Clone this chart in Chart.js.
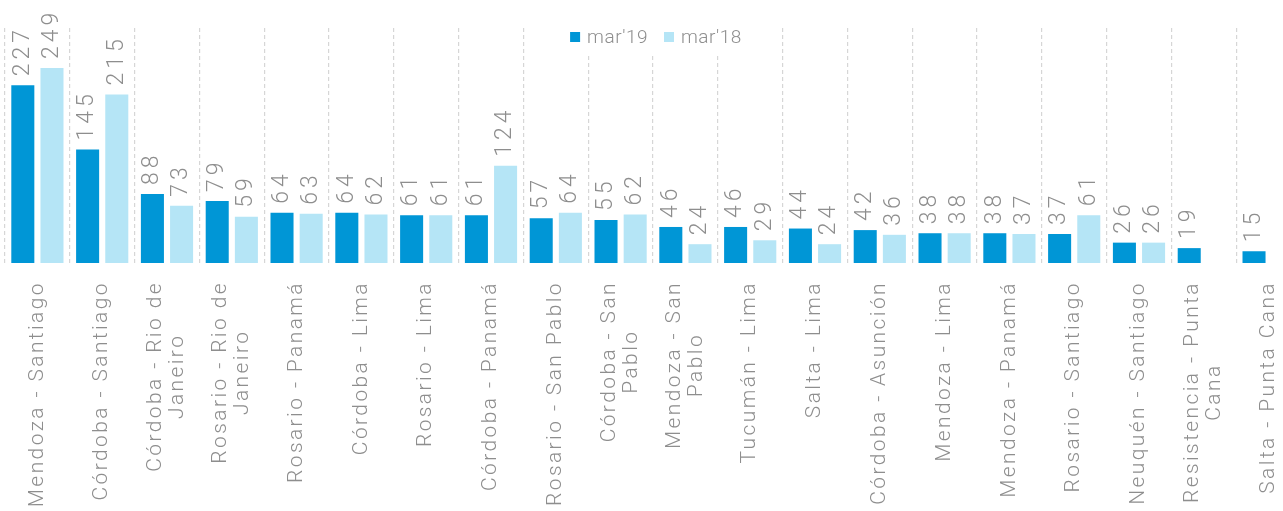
<!DOCTYPE html>
<html lang="es">
<head>
<meta charset="UTF-8">
<title>Rutas mar'19 vs mar'18</title>
<script src="https://cdn.jsdelivr.net/npm/chart.js"></script>
<style>
  html, body { margin: 0; padding: 0; background: #fff; overflow: hidden; }
  #wrap { width: 1302px; height: 511px; position: relative; }
</style>
</head>
<body>
<div id="wrap"><canvas id="myChart"></canvas></div>
<script>
// datos
const rutas = [
  ['Mendoza - Santiago'],
  ['Córdoba - Santiago'],
  ['Córdoba - Rio de', 'Janeiro'],
  ['Rosario - Rio de', 'Janeiro'],
  ['Rosario - Panamá'],
  ['Córdoba - Lima'],
  ['Rosario - Lima'],
  ['Córdoba - Panamá'],
  ['Rosario - San Pablo'],
  ['Córdoba - San', 'Pablo'],
  ['Mendoza - San', 'Pablo'],
  ['Tucumán - Lima'],
  ['Salta - Lima'],
  ['Córdoba - Asunción'],
  ['Mendoza - Lima'],
  ['Mendoza - Panamá'],
  ['Rosario - Santiago'],
  ['Neuquén - Santiago'],
  ['Resistencia - Punta', 'Cana'],
  ['Salta - Punta Cana']
];
const mar19 = [227, 145, 88, 79, 64, 64, 61, 61, 57, 55, 46, 46, 44, 42, 38, 38, 37, 26, 19, 15];
const mar18 = [249, 215, 73, 59, 63, 62, 61, 124, 64, 62, 24, 29, 24, 36, 38, 37, 61, 26, null, null];
const series = ["mar'19", "mar'18"];
const colores = ['#0096d6', '#b5e5f6'];

const GRIS = '#8e8e8e';
const FUENTE = 'Roboto, "Open Sans", sans-serif';

// valores encima de las barras, girados
const etiquetasValor = {
  id: 'etiquetasValor',
  afterDatasetsDraw(chart) {
    const ctx = chart.ctx;
    ctx.save();
    ctx.font = '300 23px ' + FUENTE;
    ctx.fillStyle = GRIS;
    ctx.letterSpacing = '4px';
    ctx.textAlign = 'left';
    ctx.textBaseline = 'middle';
    chart.data.datasets.forEach((ds, di) => {
      chart.getDatasetMeta(di).data.forEach((bar, i) => {
        const v = ds.data[i];
        if (v === null || v === undefined) return;
        ctx.save();
        ctx.translate(bar.x, bar.y - 9);
        ctx.rotate(-Math.PI / 2);
        ctx.fillText(String(v), 0, 0);
        ctx.restore();
      });
    });
    ctx.restore();
  }
};

// nombres de rutas debajo, girados y centrados por linea
const etiquetasRuta = {
  id: 'etiquetasRuta',
  afterDraw(chart) {
    const ctx = chart.ctx;
    const xs = chart.scales.x;
    const top = chart.chartArea.bottom + 18;
    const lh = 22;
    ctx.save();
    ctx.font = '300 21px ' + FUENTE;
    ctx.fillStyle = GRIS;
    ctx.letterSpacing = '2.4px';
    ctx.textAlign = 'center';
    ctx.textBaseline = 'middle';
    rutas.forEach((lineas, i) => {
      const x = xs.getPixelForValue(i);
      const w = Math.max(...lineas.map(l => ctx.measureText(l).width));
      ctx.save();
      ctx.translate(x, top);
      ctx.rotate(-Math.PI / 2);
      lineas.forEach((l, k) => {
        ctx.fillText(l, -w / 2, (k - (lineas.length - 1) / 2) * lh);
      });
      ctx.restore();
    });
    ctx.restore();
  }
};

// leyenda sobre la grilla con fondo blanco
const leyenda = {
  id: 'leyenda',
  afterDraw(chart) {
    const ctx = chart.ctx;
    const ca = chart.chartArea;
    ctx.save();
    ctx.font = '300 19px ' + FUENTE;
    ctx.letterSpacing = '0.5px';
    ctx.textBaseline = 'middle';
    const caja = 10, sep = 7, entre = 16;
    const anchos = series.map(s => ctx.measureText(s).width);
    let total = 0;
    anchos.forEach((w, i) => { total += caja + sep + w + (i < anchos.length - 1 ? entre : 0); });
    let x = (ca.left + ca.right) / 2 - total / 2 + 3;
    const y = 37;
    ctx.fillStyle = '#fff';
    ctx.fillRect(x - 8, ca.top - 1, total + 16, 27);
    series.forEach((s, i) => {
      ctx.fillStyle = colores[i];
      ctx.fillRect(x, y - 5, caja, 10);
      x += caja + sep;
      ctx.fillStyle = GRIS;
      ctx.fillText(s, x, y + 1);
      x += anchos[i] + entre;
    });
    ctx.restore();
  }
};

const ctx = document.querySelector('#myChart');
const myChart = new Chart(ctx, {
  type: 'bar',
  data: {
    labels: rutas.map(r => r.join(' ')),
    datasets: series.map((s, i) => ({
      label: s,
      data: i === 0 ? mar19 : mar18,
      backgroundColor: colores[i],
      borderWidth: 0,
      categoryPercentage: 0.9,
      barPercentage: 0.79
    }))
  },
  options: {
    responsive: true,
    maintainAspectRatio: false,
    animation: false,
    layout: { padding: { left: 5, right: 1, top: 28, bottom: 248 } },
    plugins: {
      legend: { display: false },
      tooltip: { enabled: false }
    },
    scales: {
      x: {
        ticks: { display: false },
        border: { display: false },
        grid: {
          offset: true,
          drawTicks: false,
          color: '#d6d6d6',
          lineWidth: 1.2
        },
        border: { display: false, dash: [4, 3] }
      },
      y: {
        display: false,
        min: 0,
        max: 300
      }
    }
  },
  plugins: [etiquetasValor, etiquetasRuta, leyenda]
});
</script>
</body>
</html>
